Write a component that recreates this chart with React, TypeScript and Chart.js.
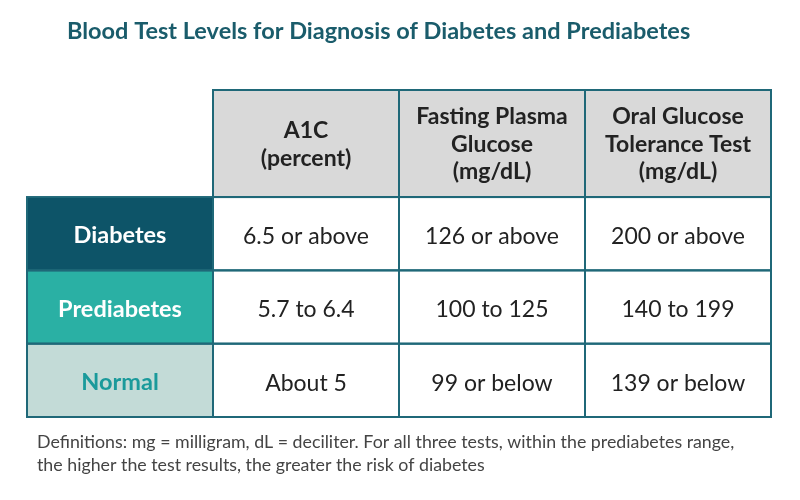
import React, { useEffect, useRef } from "react";
import { Chart, registerables } from "chart.js";

Chart.register(...registerables);

const title = "Blood Test Levels for Diagnosis of Diabetes and Prediabetes";
const columnHeaders: string[][] = [
  ["A1C", "(percent)"],
  ["Fasting Plasma", "Glucose", "(mg/dL)"],
  ["Oral Glucose", "Tolerance Test", "(mg/dL)"],
];
const rowLabels = ["Diabetes", "Prediabetes", "Normal"];
const a1cValues = ["6.5 or above", "5.7 to 6.4", "About 5"];
const fastingValues = ["126 or above", "100 to 125", "99 or below"];
const oralValues = ["200 or above", "140 to 199", "139 or below"];
const footnote = [
  "Definitions: mg = milligram, dL = deciliter. For all three tests, within the prediabetes range,",
  "the higher the test results, the greater the risk of diabetes",
];

const HEADER_WEIGHT = 1.46;
const BORDER = "#1f6878";
const HEADER_FILL = "#d9d9d9";
const ROW_FILLS = ["#0d5468", "#2ab0a4", "#c3dbd7"];
const ROW_TEXT = ["#ffffff", "#ffffff", "#1a9a9b"];
const FONT = "Lato, 'Open Sans', sans-serif";

export default function App() {
  const ref = useRef<HTMLCanvasElement>(null);
  useEffect(() => {
    const canvas = ref.current!;
    const columns = [a1cValues, fastingValues, oralValues];
    const tablePlugin = {
      id: "tablePlugin",
      afterDraw(chart: any) {
        const ctx = chart.ctx as CanvasRenderingContext2D;
        const xs = chart.scales.x;
        const ys = chart.scales.y;
        const X = (v: number) => xs.getPixelForValue(v);
        const Y = (v: number) => ys.getPixelForValue(v);
        const rowTop = (r: number) => (r === 0 ? 0 : HEADER_WEIGHT + (r - 1));
        const rowBot = (r: number) => (r === 0 ? HEADER_WEIGHT : HEADER_WEIGHT + r);
        ctx.save();
        ctx.fillStyle = "#1a5c6b";
        ctx.font = `bold 23.5px ${FONT}`;
        ctx.textAlign = "left";
        ctx.textBaseline = "alphabetic";
        ctx.fillText(title, 67, 39);

        const cell = (c: number, r: number, fill: string) => {
          const x0 = X(c), x1 = X(c + 1), y0 = Y(rowTop(r)), y1 = Y(rowBot(r));
          ctx.fillStyle = fill;
          ctx.fillRect(x0, y0, x1 - x0, y1 - y0);
          return { x0, x1, y0, y1, cx: (x0 + x1) / 2, cy: (y0 + y1) / 2 };
        };
        const lines = (txt: string[], cx: number, cy: number, lh: number, color: string, font: string, dy = 1) => {
          ctx.fillStyle = color;
          ctx.font = font;
          ctx.textAlign = "center";
          ctx.textBaseline = "middle";
          const start = cy - ((txt.length - 1) * lh) / 2;
          txt.forEach((t, i) => ctx.fillText(t, cx, start + i * lh + dy));
        };
        const strokeCell = (b: any) => {
          ctx.strokeStyle = BORDER;
          ctx.lineWidth = 2;
          ctx.strokeRect(b.x0, b.y0, b.x1 - b.x0, b.y1 - b.y0);
        };
        const boxes: any[] = [];
        columnHeaders.forEach((h, i) => {
          const b = cell(i + 1, 0, HEADER_FILL);
          boxes.push(b);
          lines(h, b.cx, b.cy, 27.5, "#222222", `bold 23px ${FONT}`);
        });
        rowLabels.forEach((lab, r) => {
          const b = cell(0, r + 1, ROW_FILLS[r]);
          boxes.push(b);
          lines([lab], b.cx, b.cy, 0, ROW_TEXT[r], `bold 23.5px ${FONT}`, 2);
          columns.forEach((col, c) => {
            const bb = cell(c + 1, r + 1, "#ffffff");
            boxes.push(bb);
            lines([col[r]], bb.cx, bb.cy, 0, "#222222", `23px ${FONT}`, 3);
          });
        });
        boxes.forEach(strokeCell);
        ctx.fillStyle = "#444444";
        ctx.font = `17.8px ${FONT}`;
        ctx.textAlign = "left";
        ctx.textBaseline = "alphabetic";
        footnote.forEach((t, i) => ctx.fillText(t, 37, 448 + i * 22.5));
        ctx.restore();
      },
    };
    const chart = new Chart(canvas, {
      type: "scatter",
      data: { datasets: [{ data: [] }] },
      options: {
        animation: false,
        responsive: false,
        events: [],
        layout: { padding: { left: 27, right: 29, top: 90, bottom: 83 } },
        plugins: { legend: { display: false }, tooltip: { enabled: false }, title: { display: false } },
        scales: {
          x: { type: "linear", min: 0, max: columnHeaders.length + 1, display: false },
          y: { type: "linear", min: 0, max: HEADER_WEIGHT + rowLabels.length, reverse: true, display: false },
        },
      },
      plugins: [tablePlugin],
    });
    return () => chart.destroy();
  }, []);
  return (
    <div style={{ position: "fixed", left: 0, top: 0, width: 800, height: 500, background: "#fff" }}>
      <canvas ref={ref} width={800} height={500} style={{ display: "block" }} />
    </div>
  );
}
